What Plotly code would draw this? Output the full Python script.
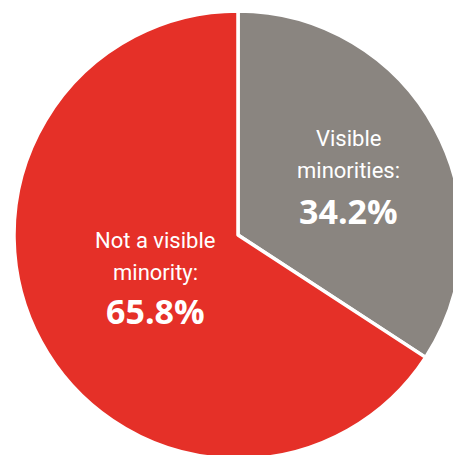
import plotly.graph_objects as go

labels = ["Visible minorities", "Not a visible minority"]
label_lines = [["Visible", "minorities:"], ["Not a visible", "minority:"]]
values = [34.2, 65.8]
colors = ["#8A8580", "#E53028"]

W, H = 466, 460

fig = go.Figure(go.Pie(
    labels=labels,
    values=values,
    sort=False,
    direction="clockwise",
    rotation=0,
    textinfo="none",
    hoverinfo="none",
    marker=dict(colors=colors, line=dict(color="white", width=3.5)),
    domain=dict(x=[14 / W, 462 / W], y=[(H - 459) / H, (H - 11) / H]),
    showlegend=False,
))

# label placement (pixel centres) for each slice
label_pos = [(348, [139, 170, 211]), (155, [240, 272, 311])]
annotations = []
for (cx, ys), lines, v in zip(label_pos, label_lines, values):
    for i, txt in enumerate(lines):
        annotations.append(dict(
            x=cx / W, y=1 - ys[i] / H, xref="paper", yref="paper",
            text=txt, showarrow=False, xanchor="center", yanchor="middle",
            font=dict(family="Roboto", size=22, color="white"),
        ))
    annotations.append(dict(
        x=cx / W, y=1 - ys[2] / H, xref="paper", yref="paper",
        text=f"<b>{v:.1f}%</b>", showarrow=False, xanchor="center", yanchor="middle",
        font=dict(family="Open Sans", size=34, color="white"),
    ))

fig.update_layout(
    width=W, height=H, autosize=False,
    margin=dict(l=0, r=0, t=0, b=0),
    paper_bgcolor="white", plot_bgcolor="white",
    annotations=annotations,
)

fig.write_html("out.html")
